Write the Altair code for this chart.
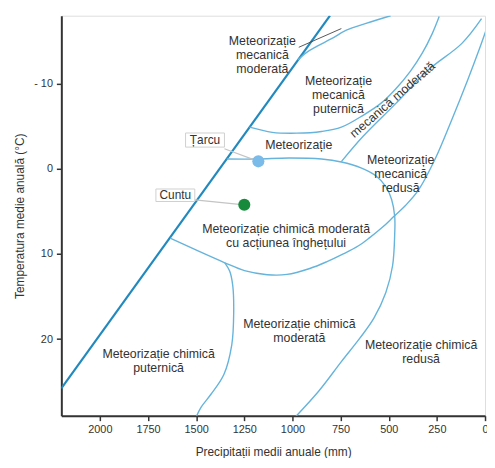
import altair as alt
import pandas as pd

# ---------------- data ----------------
x_ticks = [2000, 1750, 1500, 1250, 1000, 750, 500, 250, 0]
y_ticks = [-10, 0, 10, 20]

diag_mm = [2200, 805]
diag_t = [25.8, -18.0]

l1_mm = [972, 926, 874, 797, 720, 618, 490]
l1_t = [-12.8, -13.7, -14.4, -15.3, -16.3, -17.1, -18.0]

l2_mm = [1223, 1105, 977, 849, 746, 633, 541, 464, 387, 326, 274, 238]
l2_t = [-4.9, -4.3, -4.2, -4.4, -4.9, -6.3, -7.7, -9.4, -11.5, -13.6, -15.9, -17.9]

l3_mm = [1341, 1182, 1018, 849, 746, 644, 567, 515, 485, 469, 469, 480, 515, 577, 649, 746, 864, 985]
l3_t = [-1.16, -1.16, -1.28, -1.16, -0.81, -0.12, 0.81, 2.09, 3.6, 5.57, 7.67, 11.38, 14.52, 17.54, 19.86, 22.65, 26.13, 29.15]

l4_mm = [746, 633, 464, 295, 120, 18]
l4_t = [-0.85, -3.83, -7.67, -11.61, -14.75, -17.65]

l5_mm = [1635, 1490, 1351, 1249, 1131, 1028, 910, 823, 736, 659, 602, 530, 474, 413, 346, 259, 172, 90, 28, -3]
l5_t = [8.13, 9.64, 11.03, 11.96, 12.43, 12.4, 11.7, 10.92, 9.99, 9.06, 8.13, 6.8, 5.6, 4.3, 2.5, -1.16, -5.81, -10.45, -14.17, -16.14]

l6_mm = [1351, 1326, 1310, 1305, 1315, 1356, 1423, 1474, 1500]
l6_t = [11.03, 12.0, 13.7, 16.96, 20.67, 24.16, 26.48, 27.99, 29.15]

pointer_mm = [967, 746]
pointer_t = [-14.29, -16.49]

st_names = ["Țarcu", "Cuntu"]
st_mm = [1177, 1250]
st_t = [-0.89, 4.22]
st_colors = ["#7bbbe9", "#178a3c"]
st_label_mm = [1454, 1608]
st_label_t = [-3.37, 3.10]
st_box_mm1 = [1555, 1709]
st_box_mm2 = [1353, 1507]
st_box_t1 = [-4.22, 2.36]
st_box_t2 = [-2.56, 3.83]
st_lead_mm = [1353, 1507]
st_lead_t = [-2.37, 3.64]

reg_text = [
    "Meteorizație\nmecanică\nmoderată",
    "Meteorizație\nmecanică\nputernică",
    "Meteorizație",
    "Meteorizație\nmecanică\nredusă",
    "Meteorizație chimică moderată\ncu acțiunea înghețului",
    "Meteorizație chimică\nmoderată",
    "Meteorizație chimică\nputernică",
    "Meteorizație chimică\nredusă",
]
reg_mm = [1156, 761, 967, 438, 1033, 964, 1695, 332]
reg_t = [-14.98, -10.34, -2.79, -1.05, 7.12, 18.2, 21.78, 20.73]

rot_text = ["mecanică moderată"]
rot_mm = [480]
rot_t = [-8.13]

# ---------------- tables ----------------
curves = []
for name, xs, ys in [("L1", l1_mm, l1_t), ("L2", l2_mm, l2_t), ("L3", l3_mm, l3_t),
                     ("L4", l4_mm, l4_t), ("L5", l5_mm, l5_t), ("L6", l6_mm, l6_t)]:
    for i, (a, b) in enumerate(zip(xs, ys)):
        curves.append({"curve": name, "seq": i, "mm": a, "t": b})
curves_df = pd.DataFrame(curves)
diag_df = pd.DataFrame({"mm": diag_mm, "t": diag_t})
pointer_df = pd.DataFrame({"mm": pointer_mm, "t": pointer_t})
st_df = pd.DataFrame({"name": st_names, "mm": st_mm, "t": st_t, "color": st_colors,
                      "lmm": st_label_mm, "lt": st_label_t,
                      "bx1": st_box_mm1, "bx2": st_box_mm2, "by1": st_box_t1, "by2": st_box_t2,
                      "ax": st_lead_mm, "ay": st_lead_t})
reg_df = pd.DataFrame({"txt": reg_text, "mm": reg_mm, "t": reg_t})
rot_df = pd.DataFrame({"txt": rot_text, "mm": rot_mm, "t": rot_t})

TXT = "#333333"
xscale = alt.Scale(domain=[2200, 0], nice=False, zero=False)
yscale = alt.Scale(domain=[-18, 29], nice=False, zero=False, reverse=True)

xaxis = alt.Axis(values=x_ticks, format="d", title="Precipitații medii anuale (mm)", grid=False,
                 domainColor=TXT, domainWidth=2, tickColor=TXT, tickWidth=1.5, tickSize=5,
                 labelColor=TXT, labelFontSize=11, labelPadding=3, labelFlush=False,
                 titleFontSize=12, titleFontWeight="normal", titleColor=TXT, titlePadding=12)
yaxis = alt.Axis(values=y_ticks, title="Temperatura medie anuală (°C)", grid=False,
                 domainColor=TXT, domainWidth=2, tickColor=TXT, tickWidth=1.5, tickSize=5,
                 labelColor=TXT, labelFontSize=11, labelPadding=4, labelFlush=False,
                 labelExpr="datum.value < 0 ? '- ' + abs(datum.value) : datum.label",
                 titleFontSize=12, titleFontWeight="normal", titleColor=TXT, titlePadding=7)

X = alt.X("mm:Q", scale=xscale, axis=xaxis)
Y = alt.Y("t:Q", scale=yscale, axis=yaxis)

diag = alt.Chart(diag_df).mark_line(color="#2189bd", strokeWidth=2.2, clip=True).encode(x=X, y=Y)

lines = alt.Chart(curves_df).mark_line(color="#66b4db", strokeWidth=1.4, clip=True,
                                        interpolate="catmull-rom").encode(
    x=X, y=Y, detail="curve:N", order="seq:Q")

pointer = alt.Chart(pointer_df).mark_line(color="#444444", strokeWidth=0.9).encode(x=X, y=Y)

leads = alt.Chart(st_df).mark_rule(color="#c4c4c4", strokeWidth=1.2).encode(
    x=alt.X("ax:Q", scale=xscale, axis=xaxis), x2="mm:Q",
    y=alt.Y("ay:Q", scale=yscale, axis=yaxis), y2="t:Q")

boxes = alt.Chart(st_df).mark_rect(fill="white", stroke="#cfcfcf", strokeWidth=1).encode(
    x=alt.X("bx1:Q", scale=xscale, axis=xaxis), x2="bx2:Q",
    y=alt.Y("by1:Q", scale=yscale, axis=yaxis), y2="by2:Q")

box_txt = alt.Chart(st_df).mark_text(fontSize=12, color=TXT, baseline="middle").encode(
    x=alt.X("lmm:Q", scale=xscale, axis=xaxis), y=alt.Y("lt:Q", scale=yscale, axis=yaxis),
    text="name:N")

pts = alt.Chart(st_df).mark_circle(size=150, opacity=1).encode(
    x=X, y=Y, color=alt.Color("color:N", scale=None))

regions = alt.Chart(reg_df).mark_text(fontSize=12.5, color=TXT, lineBreak="\n", lineHeight=14,
                                      baseline="middle").encode(x=X, y=Y, text="txt:N")

rot = alt.Chart(rot_df).mark_text(fontSize=12.5, color=TXT, angle=319, baseline="middle").encode(
    x=X, y=Y, text="txt:N")

chart = alt.layer(diag, lines, pointer, leads, boxes, box_txt, pts, regions, rot).properties(
    width=429, height=405,
    autosize=alt.AutoSizeParams(type="none"),
    padding={"left": 54, "top": 5, "right": 2, "bottom": 40},
).configure_view(stroke=TXT, strokeWidth=2).configure(font="Liberation Sans")

chart.save("out.html", embed_options={"renderer": "svg", "actions": False})
